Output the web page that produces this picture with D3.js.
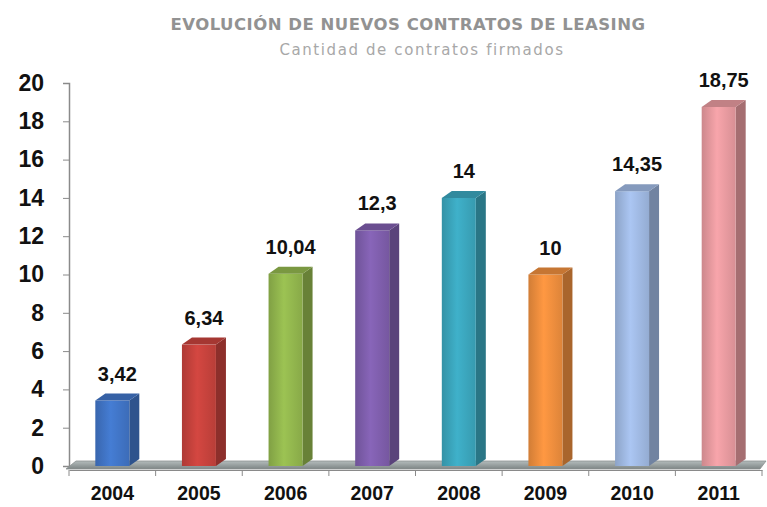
<!DOCTYPE html>
<html>
<head>
<meta charset="utf-8">
<script src="https://cdn.jsdelivr.net/npm/d3@7"></script>
<style>
  body { margin: 0; background: #fff; }
  svg { display: block; }
</style>
</head>
<body>
<script>
const years = ["2004", "2005", "2006", "2007", "2008", "2009", "2010", "2011"];
const values = [3.42, 6.34, 10.04, 12.3, 14, 10, 14.35, 18.75];
const labels = ["3,42", "6,34", "10,04", "12,3", "14", "10", "14,35", "18,75"];
const colors = ["#3f72c2", "#c2413b", "#8fb24c", "#7c5ca9", "#3aa2b9", "#e98b3c", "#9cb5de", "#e3979c"];
const yTicks = [0, 2, 4, 6, 8, 10, 12, 14, 16, 18, 20];

const W = 767, H = 507;
const svg = d3.select("body").append("svg").attr("width", W).attr("height", H);
const defs = svg.append("defs");

const x = d3.scaleBand().domain(years).range([69, 762]).paddingInner(0).paddingOuter(0);
const y = d3.scaleLinear().domain([0, 20]).range([466, 83]);

const dx = 10, dy = -7, barW = 34;

// title
svg.append("text").attr("x", 408).attr("y", 30).attr("text-anchor", "middle")
  .attr("font-family", "'DejaVu Sans', Verdana, sans-serif").attr("font-size", 16.5)
  .attr("font-weight", "bold").attr("fill", "#929292").attr("letter-spacing", 0.5)
  .text("EVOLUCIÓN DE NUEVOS CONTRATOS DE LEASING");
svg.append("text").attr("x", 422).attr("y", 55).attr("text-anchor", "middle")
  .attr("font-family", "'DejaVu Sans', Verdana, sans-serif").attr("font-size", 15)
  .attr("fill", "#a8a8a8").attr("letter-spacing", 1.6)
  .text("Cantidad de contratos firmados");

// y axis
const yAxis = svg.append("g").attr("transform", "translate(69,0)")
  .call(d3.axisLeft(y).tickValues(yTicks).tickSize(6).tickPadding(19));
yAxis.select(".domain").attr("stroke", "#8a8a8a").attr("stroke-width", 1.5);
yAxis.selectAll(".tick line").attr("stroke", "#8a8a8a");
yAxis.selectAll(".tick text").attr("font-family", "Arial, 'Liberation Sans', sans-serif")
  .attr("font-size", 23).attr("font-weight", "bold").attr("fill", "#111");

// floor
const fg = defs.append("linearGradient").attr("id", "floor").attr("x1", 0).attr("y1", 0).attr("x2", 0).attr("y2", 1);
fg.append("stop").attr("offset", "0%").attr("stop-color", "#b4bcbc");
fg.append("stop").attr("offset", "100%").attr("stop-color", "#7d8585");
const y0 = y(0);
svg.append("path")
  .attr("d", `M66,${y0 + 3} L76,${y0 - 5} L766,${y0 - 5} L760,${y0 + 3} Z`)
  .attr("fill", "url(#floor)").attr("stroke", "#8a9090").attr("stroke-width", 0.8);

// x axis
const xAxis = svg.append("g").attr("transform", `translate(0,${y0 + 4})`)
  .call(d3.axisBottom(x).tickSize(0).tickPadding(16));
xAxis.select(".domain").attr("stroke", "#8a8a8a").attr("stroke-width", 1.2);
xAxis.selectAll(".tick text").attr("font-family", "Arial, 'Liberation Sans', sans-serif")
  .attr("font-size", 19.5).attr("font-weight", "bold").attr("fill", "#111");
xAxis.selectAll(".sep").data(d3.range(years.length + 1)).enter().append("line")
  .attr("x1", i => 69 + i * x.step()).attr("x2", i => 69 + i * x.step())
  .attr("y1", 0).attr("y2", 6).attr("stroke", "#8a8a8a");

// bars
const bars = svg.append("g").selectAll("g").data(years).enter().append("g");
bars.each(function(yr, i) {
  const g = d3.select(this);
  const c = d3.color(colors[i]);
  const gid = "grad" + i;
  const gr = defs.append("linearGradient").attr("id", gid).attr("x1", 0).attr("x2", 1).attr("y1", 0).attr("y2", 0);
  gr.append("stop").attr("offset", "0%").attr("stop-color", c.darker(0.3));
  gr.append("stop").attr("offset", "45%").attr("stop-color", c.brighter(0.25));
  gr.append("stop").attr("offset", "100%").attr("stop-color", c.darker(0.15));
  const x0 = x(yr) + x.bandwidth() / 2 - (barW + dx) / 2 + 5;
  const yt = y(values[i]);
  // side
  g.append("path")
    .attr("d", `M${x0 + barW},${yt} L${x0 + barW + dx},${yt + dy} L${x0 + barW + dx},${y0 + dy} L${x0 + barW},${y0} Z`)
    .attr("fill", c.darker(0.9));
  // front
  g.append("rect").attr("x", x0).attr("y", yt).attr("width", barW).attr("height", y0 - yt)
    .attr("fill", `url(#${gid})`);
  // top
  g.append("path")
    .attr("d", `M${x0},${yt} L${x0 + dx},${yt + dy} L${x0 + barW + dx},${yt + dy} L${x0 + barW},${yt} Z`)
    .attr("fill", c.darker(0.45));
  // value label
  g.append("text").attr("x", x0 + (barW + dx) / 2).attr("y", yt - 20)
    .attr("text-anchor", "middle")
    .attr("font-family", "Arial, 'Liberation Sans', sans-serif")
    .attr("font-size", 20).attr("font-weight", "bold").attr("fill", "#111")
    .text(labels[i]);
});
</script>
</body>
</html>
